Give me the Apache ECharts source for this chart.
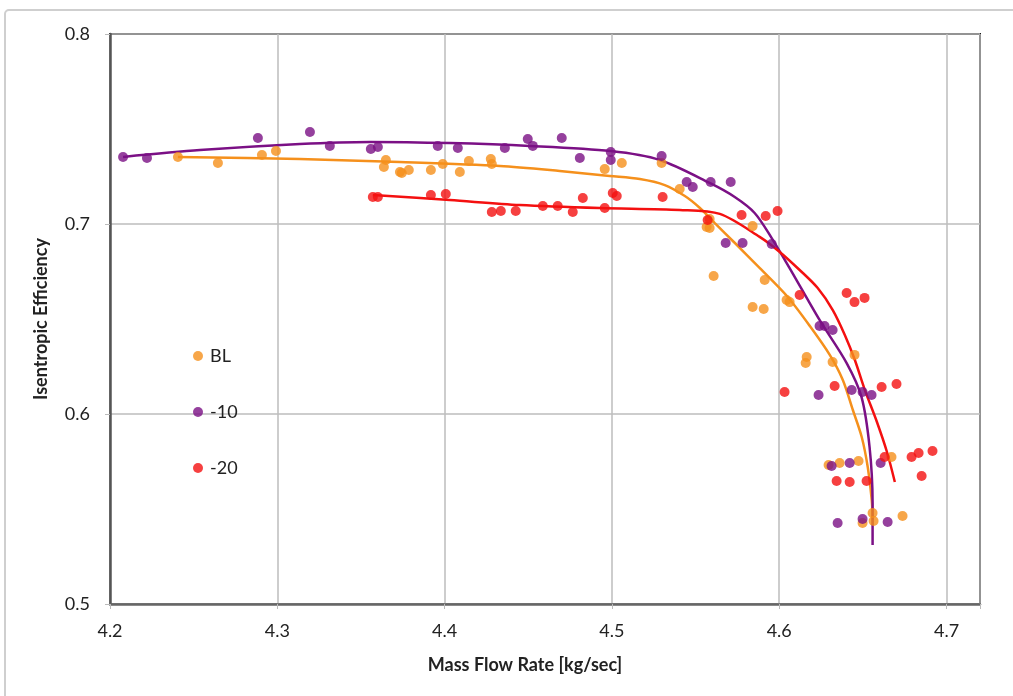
<!DOCTYPE html>
<html>
<head>
<meta charset="utf-8">
<script src="https://cdn.jsdelivr.net/npm/echarts@6/dist/echarts.min.js"></script>
<style>
  html, body { margin: 0; padding: 0; background: #fff; }
  #chart { width: 1013px; height: 696px; }
</style>
</head>
<body>
<div id="chart"></div>
<script>
// Measured points: [mass flow rate (kg/s), isentropic efficiency]
const blPoints = [
  [4.2406, 0.7353], [4.2645, 0.7321], [4.2908, 0.7363], [4.2992, 0.7384],
  [4.3649, 0.7337], [4.3637, 0.7300], [4.3733, 0.7274], [4.3744, 0.7268],
  [4.3786, 0.7284], [4.3918, 0.7284], [4.3989, 0.7316], [4.4091, 0.7274],
  [4.4145, 0.7332], [4.4276, 0.7342], [4.4282, 0.7316], [4.4957, 0.7289],
  [4.5059, 0.7321], [4.5297, 0.7321], [4.5405, 0.7184], [4.5566, 0.6984],
  [4.5584, 0.7026], [4.5584, 0.6979], [4.5608, 0.6726], [4.5841, 0.6989],
  [4.5913, 0.6705], [4.5841, 0.6563], [4.5907, 0.6553], [4.6044, 0.6600],
  [4.6062, 0.6589], [4.6164, 0.6300], [4.6158, 0.6268], [4.6319, 0.6274],
  [4.6450, 0.6311], [4.6295, 0.5732], [4.6361, 0.5742], [4.6474, 0.5753],
  [4.6671, 0.5774], [4.6498, 0.5426], [4.6558, 0.5479], [4.6564, 0.5437],
  [4.6737, 0.5463]
];
const m10Points = [
  [4.2078, 0.7353], [4.2221, 0.7347], [4.2884, 0.7453], [4.3195, 0.7484],
  [4.3314, 0.7411], [4.3559, 0.7395], [4.3601, 0.7405], [4.3959, 0.7411],
  [4.4079, 0.7400], [4.4360, 0.7400], [4.4497, 0.7447], [4.4527, 0.7411],
  [4.4700, 0.7453], [4.4808, 0.7347], [4.4993, 0.7379], [4.4993, 0.7337],
  [4.5297, 0.7358], [4.5447, 0.7221], [4.5483, 0.7195], [4.5590, 0.7221],
  [4.5710, 0.7221], [4.5680, 0.6900], [4.5781, 0.6900], [4.5955, 0.6895],
  [4.6241, 0.6463], [4.6271, 0.6463], [4.6319, 0.6442], [4.6235, 0.6100],
  [4.6433, 0.6126], [4.6498, 0.6116], [4.6552, 0.6100], [4.6313, 0.5726],
  [4.6421, 0.5742], [4.6606, 0.5742], [4.6349, 0.5426], [4.6498, 0.5447],
  [4.6648, 0.5432]
];
const m20Points = [
  [4.3571, 0.7142], [4.3601, 0.7142], [4.3918, 0.7153], [4.4007, 0.7158],
  [4.4282, 0.7063], [4.4336, 0.7068], [4.4425, 0.7068], [4.4587, 0.7095],
  [4.4676, 0.7095], [4.4766, 0.7063], [4.4826, 0.7137], [4.4957, 0.7084],
  [4.5005, 0.7163], [4.5029, 0.7147], [4.5303, 0.7142], [4.5572, 0.7021],
  [4.5775, 0.7047], [4.5919, 0.7042], [4.5990, 0.7068], [4.6122, 0.6626],
  [4.6032, 0.6116], [4.6403, 0.6637], [4.6450, 0.6589], [4.6510, 0.6611],
  [4.6331, 0.6147], [4.6612, 0.6142], [4.6701, 0.6158], [4.6630, 0.5774],
  [4.6791, 0.5774], [4.6833, 0.5795], [4.6916, 0.5805], [4.6343, 0.5647],
  [4.6421, 0.5642], [4.6522, 0.5647], [4.6851, 0.5674]
];

// Smoothed trend curves for each configuration
const blTrend = [
  [4.2406, 0.7353], [4.3135, 0.7342], [4.3732, 0.7326], [4.4330, 0.7305],
  [4.4688, 0.7279], [4.4987, 0.7253], [4.5167, 0.7237], [4.5316, 0.7205],
  [4.5436, 0.7147], [4.5526, 0.7084], [4.5615, 0.7005], [4.5735, 0.6900],
  [4.5884, 0.6768], [4.6046, 0.6621], [4.6183, 0.6463], [4.6302, 0.6311],
  [4.6380, 0.6179], [4.6440, 0.6021], [4.6493, 0.5879], [4.6529, 0.5721],
  [4.6553, 0.5547], [4.6559, 0.5416]
];
const m10Trend = [
  [4.2078, 0.7353], [4.2538, 0.7389], [4.3135, 0.7421], [4.3553, 0.7432],
  [4.4031, 0.7426], [4.4509, 0.7411], [4.4993, 0.7384], [4.5286, 0.7337],
  [4.5584, 0.7216], [4.5734, 0.7142], [4.5853, 0.7058], [4.5955, 0.6926],
  [4.6062, 0.6768], [4.6241, 0.6495], [4.6403, 0.6268], [4.6492, 0.6089],
  [4.6540, 0.5826], [4.6558, 0.5532], [4.6558, 0.5311]
];
const m20Trend = [
  [4.3571, 0.7153], [4.4031, 0.7126], [4.4449, 0.7100], [4.4927, 0.7084],
  [4.5405, 0.7074], [4.5645, 0.7053], [4.5883, 0.6932], [4.6003, 0.6853],
  [4.6122, 0.6758], [4.6230, 0.6663], [4.6320, 0.6547], [4.6392, 0.6416],
  [4.6452, 0.6284], [4.6512, 0.6126], [4.6584, 0.5958], [4.6644, 0.5800],
  [4.6691, 0.5642]
];

const seriesNames = ['BL', '-10', '-20'];
const colors = ['#F5901C', '#7B1085', '#F41010'];

const FONT = 'Lato, "Liberation Sans", sans-serif';

function tenthLabel(v) {
  const t = v * 10;
  return Math.abs(t - Math.round(t)) < 1e-6 ? v.toFixed(1) : '';
}

const chart = echarts.init(document.getElementById('chart'), null, { renderer: 'canvas' });

const scatter = (name, data, color) => ({
  name, type: 'scatter', data, symbol: 'circle', symbolSize: 10,
  itemStyle: { color }, z: 3
});
const trend = (name, data, color) => ({
  name: name + ' trend', type: 'line', data, smooth: 0.3, symbol: 'none',
  lineStyle: { color, width: 2.5 }, z: 2
});

chart.setOption({
  animation: false,
  backgroundColor: '#fff',
  graphic: [{
    type: 'rect',
    shape: { x: 5, y: 10, width: 1040, height: 720, r: 4 },
    style: { fill: 'none', stroke: '#cfcfcf', lineWidth: 2 },
    silent: true, z: -1
  }],
  grid: {
    left: 110, right: 33, top: 34, bottom: 92,
    show: true, borderColor: '#1a1a1a', borderWidth: 2
  },
  legend: {
    data: seriesNames,
    orient: 'vertical', left: 188, top: 342,
    itemWidth: 10, itemHeight: 10, itemGap: 38,
    icon: 'circle',
    textStyle: { fontFamily: FONT, fontSize: 18, color: '#222', padding: [0, 0, 0, 2] }
  },
  xAxis: {
    type: 'value', min: 4.2, max: 4.72, interval: 0.1,
    name: 'Mass Flow Rate [kg/sec]', nameLocation: 'middle', nameGap: 52,
    nameTextStyle: { fontFamily: FONT, fontSize: 18, fontWeight: 'bold', color: '#222', padding: [0, 40, 0, 0] },
    axisLine: { show: true, onZero: false, lineStyle: { color: '#666', width: 2.5 } },
    axisTick: { show: true, length: 5, lineStyle: { color: '#bbb' } },
    axisLabel: { fontFamily: FONT, fontSize: 18, color: '#222', margin: 18, formatter: tenthLabel },
    splitLine: { show: true, lineStyle: { color: '#bdbdbd', width: 1.5 } }
  },
  yAxis: {
    type: 'value', min: 0.5, max: 0.8, interval: 0.1,
    name: 'Isentropic Efficiency', nameLocation: 'middle', nameGap: 60,
    nameTextStyle: { fontFamily: FONT, fontSize: 18, fontWeight: 'bold', color: '#222' },
    axisLine: { show: true, onZero: false, lineStyle: { color: '#555', width: 2.5 } },
    axisTick: { show: true, length: 5, lineStyle: { color: '#bbb' } },
    axisLabel: { fontFamily: FONT, fontSize: 18, color: '#222', margin: 20, formatter: v => v.toFixed(1) },
    splitLine: { show: true, lineStyle: { color: '#bdbdbd', width: 1.5 } }
  },
  series: [
    trend(seriesNames[0], blTrend, colors[0]),
    trend(seriesNames[1], m10Trend, colors[1]),
    trend(seriesNames[2], m20Trend, colors[2]),
    scatter(seriesNames[0], blPoints, colors[0]),
    scatter(seriesNames[1], m10Points, colors[1]),
    scatter(seriesNames[2], m20Points, colors[2])
  ]
});
</script>
</body>
</html>
